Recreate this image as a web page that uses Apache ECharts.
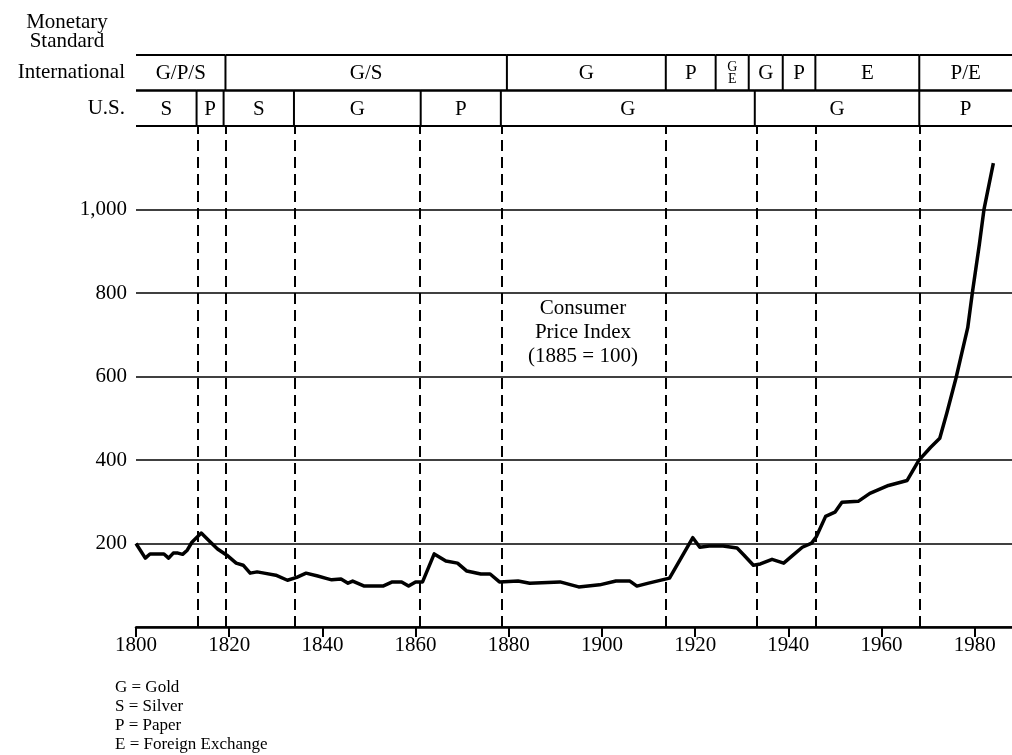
<!DOCTYPE html>
<html>
<head>
<meta charset="utf-8">
<title>Consumer Price Index and Monetary Standards</title>
<script src="https://cdn.jsdelivr.net/npm/echarts@6/dist/echarts.min.js"></script>
<style>
  html, body { margin: 0; padding: 0; background: #fff; }
  #chart { width: 1012px; height: 755px; }
</style>
</head>
<body>
<div id="chart"></div>
<script>
// consumer price index, 1885 = 100
const cpiYears = [1800, 1802, 1803, 1806, 1807, 1808, 1809, 1810, 1811, 1812,
  1814, 1816, 1817.5, 1819.5, 1821.5, 1823, 1824.5, 1826, 1827.5, 1830,
  1832.5, 1834.5, 1836.5, 1839, 1841, 1842, 1844, 1845.5, 1846.5, 1849,
  1853, 1855, 1857, 1858.5, 1860, 1861.5, 1864, 1866.5, 1869, 1871,
  1874, 1876, 1878, 1882, 1884.5, 1891, 1895, 1899.5, 1903, 1906,
  1907.5, 1910, 1914.5, 1919.5, 1921, 1923, 1926, 1929, 1930.5, 1932.5,
  1934, 1936.5, 1939, 1941, 1943, 1945, 1946, 1948, 1950, 1951.5,
  1955, 1957.5, 1961.5, 1965.5, 1968, 1970.5, 1972.5, 1974, 1976, 1977,
  1978.5, 1979.5, 1981, 1982, 1984]
const cpiValues = [200, 165, 175, 175, 165, 177, 177, 174, 184, 203,
  225, 203, 187, 172, 153, 148, 129, 132, 129, 124,
  112, 119, 129, 122, 116, 113, 115, 105, 110, 98,
  98, 108, 108, 98, 108, 108, 175, 158, 153, 134,
  127, 127, 108, 110, 105, 108, 96, 101, 110, 110,
  98, 105, 117, 214, 191, 194, 194, 189, 172, 148,
  151, 162, 153, 172, 191, 201, 216, 265, 275, 299,
  301, 320, 339, 351, 399, 430, 452, 512, 597, 645,
  717, 801, 917, 1001, 1111]

// dashed lines: changes of standard
const breakYears = [1813.3, 1819.3, 1834, 1861, 1878.5, 1913.7, 1933.2, 1945.8, 1968.2]

// monetary standard bands
const intlStarts = [1800, 1819.2, 1879.6, 1913.7, 1924.4, 1931.5, 1938.8, 1945.8, 1968.1]
const intlLabels = ['G/P/S', 'G/S', 'G', 'P', 'G\nE', 'G', 'P', 'E', 'P/E']
const usStarts = [1800, 1813, 1818.8, 1833.9, 1861.1, 1878.3, 1932.8, 1968.1]
const usLabels = ['S', 'P', 'S', 'G', 'P', 'G', 'G', 'P']
const rowNames = ['U.S.', 'International']

const xTicks = [1800, 1820, 1840, 1860, 1880, 1900, 1920, 1940, 1960, 1980]
const yTicks = [200, 400, 600, 800, 1000]
const keyLines = ['G = Gold', 'S = Silver', 'P = Paper', 'E = Foreign Exchange']

const X_MIN = 1800
const X_MAX = 1988
const FONT = '"Liberation Serif", "DejaVu Serif", serif'

function periods(starts, labels, row) {
  return starts.map(function(s, i) {
    const end = i < starts.length - 1 ? starts[i + 1] : X_MAX
    return [row, s, end, labels[i]]
  })
}
const headerData = periods(intlStarts, intlLabels, 1).concat(periods(usStarts, usLabels, 0))

function renderPeriod(params, api) {
  const row = api.value(0)
  const start = api.value(1)
  const p0 = api.coord([start, row])
  const p1 = api.coord([api.value(2), row])
  const h = api.size([0, 1])[1]
  const top = p0[1] - h / 2
  const bottom = p0[1] + h / 2
  const label = headerData[params.dataIndex][3]
  const stroke = { stroke: '#000', lineWidth: 2 }
  const children = [
    { type: 'line', shape: { x1: p0[0], y1: top, x2: p1[0], y2: top }, style: stroke },
    { type: 'line', shape: { x1: p0[0], y1: bottom, x2: p1[0], y2: bottom }, style: stroke }
  ]
  if (start > X_MIN) {
    children.push({ type: 'line', shape: { x1: p0[0], y1: top, x2: p0[0], y2: bottom }, style: stroke })
  }
  const stacked = label.indexOf('\n') >= 0
  children.push({
    type: 'text',
    x: (p0[0] + p1[0]) / 2,
    y: p0[1] + 1,
    style: {
      text: label,
      fill: '#000',
      font: (stacked ? '14px ' : '21px ') + FONT,
      lineHeight: stacked ? 12 : 21,
      align: 'center',
      verticalAlign: 'middle'
    }
  })
  return { type: 'group', children: children }
}

const chart = echarts.init(document.getElementById('chart'))

chart.setOption({
  animation: false,
  backgroundColor: '#fff',
  textStyle: { fontFamily: FONT, color: '#000' },
  grid: [
    { left: 136, right: 0, top: 126, bottom: 128 },
    { left: 136, right: 0, top: 55, height: 71 }
  ],
  xAxis: [{
    type: 'value',
    gridIndex: 0,
    min: X_MIN,
    max: X_MAX,
    interval: 20,
    axisLine: { lineStyle: { color: '#000', width: 2.5 } },
    axisTick: { customValues: xTicks, length: 10, lineStyle: { color: '#000', width: 2 } },
    axisLabel: {
      customValues: xTicks,
      fontSize: 21,
      fontFamily: FONT,
      color: '#000',
      margin: 8,
      formatter: function(v) { return String(v) }
    },
    splitLine: { show: false }
  }, {
    type: 'value',
    gridIndex: 1,
    min: X_MIN,
    max: X_MAX,
    show: false
  }],
  yAxis: [{
    type: 'value',
    gridIndex: 0,
    min: 0,
    max: 1200,
    interval: 200,
    axisLine: { show: false },
    axisTick: { show: false },
    axisLabel: {
      fontSize: 21,
      fontFamily: FONT,
      color: '#000',
      margin: 9,
      formatter: function(v) {
        return yTicks.indexOf(v) >= 0 ? v.toLocaleString('en-US') : ''
      }
    },
    splitLine: { lineStyle: { color: '#000', width: 1.5 } }
  }, {
    type: 'category',
    gridIndex: 1,
    data: rowNames,
    axisLine: { show: false },
    axisTick: { show: false },
    axisLabel: { fontSize: 21, fontFamily: FONT, color: '#000', margin: 11 },
    splitLine: { show: false }
  }],
  series: [{
    name: 'CPI',
    type: 'line',
    xAxisIndex: 0,
    yAxisIndex: 0,
    data: cpiYears.map(function(y, i) { return [y, cpiValues[i]] }),
    showSymbol: false,
    symbol: 'none',
    lineStyle: { color: '#000', width: 3.5, join: 'round' },
    markLine: {
      silent: true,
      symbol: ['none', 'none'],
      label: { show: false },
      lineStyle: { color: '#000', width: 2, type: [11, 6] },
      data: breakYears.map(function(x) { return { xAxis: x } })
    }
  }, {
    name: 'Monetary Standard',
    type: 'custom',
    xAxisIndex: 1,
    yAxisIndex: 1,
    renderItem: renderPeriod,
    encode: { x: [1, 2], y: 0 },
    data: headerData.map(function(d) { return [d[0], d[1], d[2]] }),
    clip: false
  }],
  graphic: [{
    type: 'text',
    x: 67,
    y: 13,
    style: {
      text: 'Monetary\nStandard',
      font: '21px ' + FONT,
      fill: '#000',
      align: 'center',
      verticalAlign: 'top',
      lineHeight: 19
    }
  }, {
    type: 'text',
    x: 583,
    y: 332,
    style: {
      text: 'Consumer\nPrice Index\n(1885 = 100)',
      font: '21px ' + FONT,
      fill: '#000',
      align: 'center',
      verticalAlign: 'middle',
      lineHeight: 24
    }
  }, {
    type: 'text',
    x: 115,
    y: 716,
    style: {
      text: keyLines.join('\n'),
      font: '17px ' + FONT,
      fill: '#000',
      align: 'left',
      verticalAlign: 'middle',
      lineHeight: 19
    }
  }]
})
</script>
</body>
</html>
